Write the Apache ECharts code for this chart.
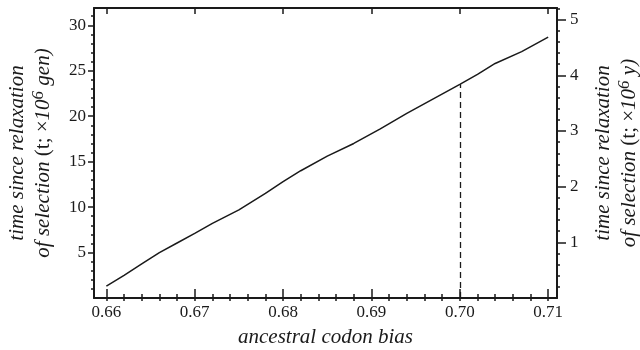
<!DOCTYPE html>
<html>
<head>
<meta charset="utf-8">
<script src="https://cdn.jsdelivr.net/npm/echarts@6/dist/echarts.min.js"></script>
<style>
  html, body { margin: 0; padding: 0; background: #fff; }
  #chart { width: 640px; height: 350px; }
</style>
</head>
<body>
<div id="chart"></div>
<script>
// ancestral codon bias vs time since relaxation of selection
const codonBias = [0.660, 0.662, 0.664, 0.666, 0.668, 0.670, 0.672, 0.675, 0.678, 0.680, 0.682,
  0.685, 0.688, 0.691, 0.694, 0.697, 0.700, 0.702, 0.704, 0.707, 0.710];
const timeGen = [1.3, 2.5, 3.75, 5.0, 6.05, 7.1, 8.2, 9.7, 11.5, 12.8, 14.0,
  15.6, 17.0, 18.6, 20.3, 21.9, 23.5, 24.6, 25.8, 27.1, 28.7];

// dashed marker at codon bias 0.70
const markX = 0.70;
const markY = 23.5;

// tick positions
const xMajor = [0.66, 0.67, 0.68, 0.69, 0.70, 0.71];
const xMinor = [];
for (let i = 0; i <= 25; i++) xMinor.push(+(0.66 + i * 0.002).toFixed(3));
const yLeftMajor = [5, 10, 15, 20, 25, 30];
const yLeftMinor = [];
for (let i = 1; i <= 31; i++) yLeftMinor.push(i);
const yRightMajor = [1, 2, 3, 4, 5];
const yRightMinor = [];
for (let i = 1; i <= 26; i++) yRightMinor.push(+(i * 0.2).toFixed(1));

const X_MIN = 0.6586, X_MAX = 0.711;
const YL_MAX = 31.9, YR_MAX = 5.21;

const ink = '#1a1a1a';
const serif = '"Liberation Serif", "DejaVu Serif", serif';

const chart = echarts.init(document.getElementById('chart'));

function xAxisDef(pos, major, len, opts) {
  return Object.assign({
    type: 'value',
    position: pos,
    min: X_MIN,
    max: X_MAX,
    splitLine: { show: false },
    axisLine: { show: true, onZero: false, lineStyle: { color: ink, width: 2 } },
    axisTick: { show: true, inside: true, length: len, customValues: major, lineStyle: { color: ink, width: 1.5 } },
    axisLabel: { show: false }
  }, opts || {});
}

function yAxisDef(pos, max, major, len, opts) {
  return Object.assign({
    type: 'value',
    position: pos,
    min: 0,
    max: max,
    splitLine: { show: false },
    axisLine: { show: true, onZero: false, lineStyle: { color: ink, width: 2 } },
    axisTick: { show: true, inside: false, length: len, customValues: major, lineStyle: { color: ink, width: 1.5 } },
    axisLabel: { show: false }
  }, opts || {});
}

const nameRich = {
  i: { fontFamily: serif, fontStyle: 'italic', fontSize: 21, color: ink, lineHeight: 26 },
  n: { fontFamily: serif, fontStyle: 'normal', fontSize: 21, color: ink, lineHeight: 26 },
  s: { fontFamily: serif, fontStyle: 'italic', fontSize: 17, color: ink, lineHeight: 26, verticalAlign: 'top' }
};

chart.setOption({
  animation: false,
  backgroundColor: '#fff',
  grid: { left: 94, right: 83, top: 8, bottom: 52, outerBoundsMode: 'none', containLabel: false },
  xAxis: [
    xAxisDef('bottom', xMajor, 9, {
      name: 'ancestral codon bias',
      nameLocation: 'middle',
      nameGap: 29,
      nameTextStyle: { fontFamily: serif, fontStyle: 'italic', fontSize: 21, color: ink },
      axisLabel: {
        show: true, customValues: xMajor, margin: 6,
        fontFamily: serif, fontSize: 17, color: ink,
        formatter: v => v.toFixed(2)
      }
    }),
    xAxisDef('bottom', xMinor, 4, { axisLine: { show: false } }),
    xAxisDef('top', xMajor, 6),
    xAxisDef('top', xMinor, 3, { axisLine: { show: false } })
  ],
  yAxis: [
    yAxisDef('left', YL_MAX, yLeftMajor, 6, {
      name: '{i|time since relaxation}\n{i|of selection }{n|(t; ×}{i|10}{s|6}{i| gen)}',
      nameLocation: 'middle',
      nameRotate: 90,
      nameGap: 38,
      nameTextStyle: { rich: nameRich, lineHeight: 26 },
      axisLabel: {
        show: true, customValues: yLeftMajor, margin: 8,
        fontFamily: serif, fontSize: 17, color: ink
      }
    }),
    yAxisDef('left', YL_MAX, yLeftMinor, 3, { axisLine: { show: false } }),
    yAxisDef('right', YR_MAX, yRightMajor, 9, {
      name: '{i|time since relaxation}\n{i|of selection }{n|(t; ×}{i|10}{s|6}{i| y)}',
      nameLocation: 'middle',
      nameRotate: 90,
      nameGap: 33,
      nameTextStyle: { rich: nameRich, lineHeight: 26 },
      axisLabel: {
        show: true, customValues: yRightMajor, margin: 13,
        fontFamily: serif, fontSize: 17, color: ink
      }
    }),
    yAxisDef('right', YR_MAX, yRightMinor, 3, { axisLine: { show: false } })
  ],
  series: [
    {
      type: 'line',
      xAxisIndex: 0,
      yAxisIndex: 0,
      data: codonBias.map((x, i) => [x, timeGen[i]]),
      symbol: 'none',
      smooth: false,
      lineStyle: { color: ink, width: 1.5 },
      markLine: {
        silent: true,
        symbol: 'none',
        label: { show: false },
        lineStyle: { color: ink, width: 1.3, type: [6, 4] },
        data: [[{ coord: [markX, 0] }, { coord: [markX, markY] }]]
      }
    }
  ]
});
</script>
</body>
</html>
